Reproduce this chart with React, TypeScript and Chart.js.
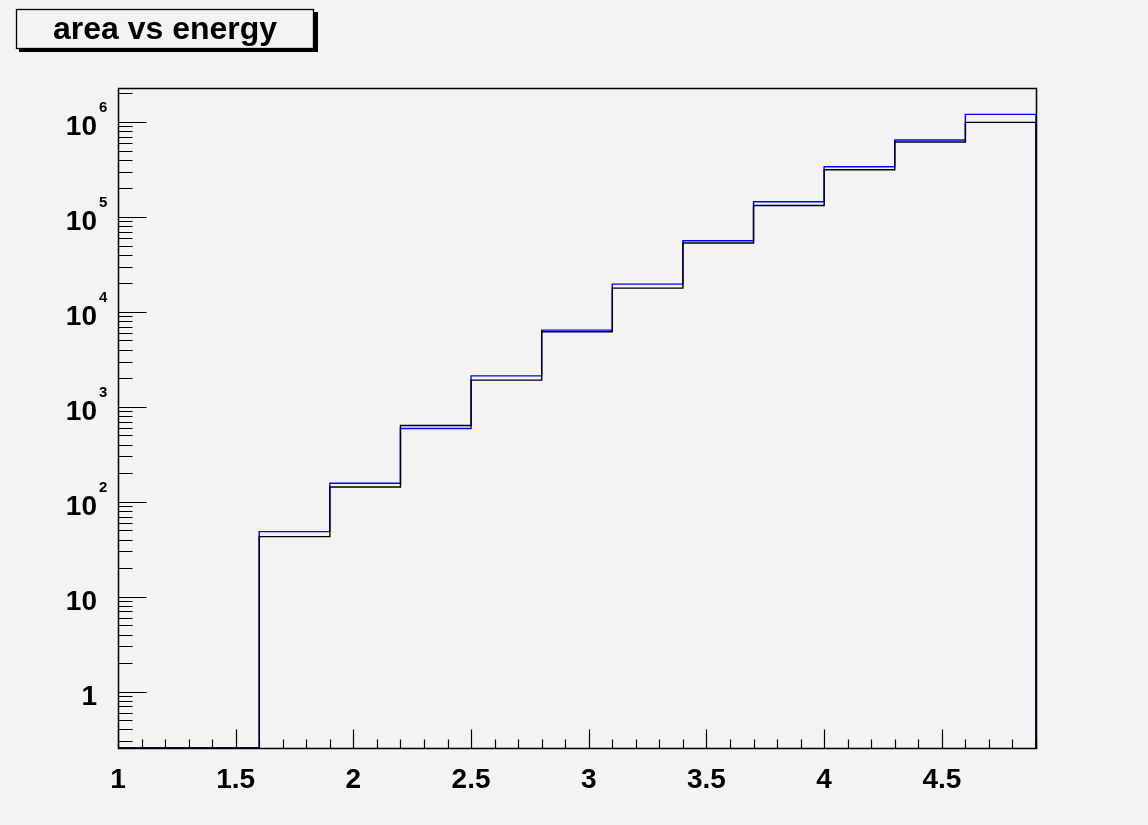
import React, { useEffect, useRef } from "react";
import { Chart, registerables } from "chart.js";

Chart.register(...registerables);

// ---- data ----
const binLowEdges = [1.0, 1.3, 1.6, 1.9, 2.2, 2.5, 2.8, 3.1, 3.4, 3.7, 4.0, 4.3, 4.6];
const binWidth = 0.3;
const blueValues = [0, 0, 48.5, 157, 591, 2120, 6430, 19600, 56100, 144500, 338000, 646000, 1202000];
const blackValues = [0, 0, 43, 143, 635, 1910, 6170, 17800, 53100, 132000, 314000, 615000, 990000];

const xMin = 1.0;
const xMax = 4.9;
const yMin = 0.2553;
const yMax = 2.28e6;

const xTickValues = [1, 1.5, 2, 2.5, 3, 3.5, 4, 4.5];
const xTickLabels = ["1", "1.5", "2", "2.5", "3", "3.5", "4", "4.5"];
const yTickValues = [1, 10, 100, 1000, 10000, 100000, 1000000];
const yTickBases = ["1", "10", "10", "10", "10", "10", "10"];
const yTickExps = ["", "", "2", "3", "4", "5", "6"];

const titleText = "area vs energy";

const BG = "#f3f3f3";
const FONT = '"Liberation Sans", Arial, Helvetica, sans-serif';

function histPoints(values: number[]) {
  const pts = values.map((v, i) => ({ x: binLowEdges[i], y: v > 0 ? v : yMin }));
  const lastEdge = binLowEdges[binLowEdges.length - 1] + binWidth;
  pts.push({ x: lastEdge, y: values[values.length - 1] > 0 ? values[values.length - 1] : yMin });
  pts.push({ x: lastEdge, y: yMin });
  return pts;
}

const rootPlugin = {
  id: "rootStyle",
  beforeDraw(chart: any) {
    const { ctx, width, height } = chart;
    ctx.save();
    ctx.fillStyle = BG;
    ctx.fillRect(0, 0, width, height);
    ctx.restore();
  },
  afterDraw(chart: any) {
    const { ctx, chartArea } = chart;
    const { left, top, right, bottom } = chartArea;
    const xs = chart.scales.x;
    const ys = chart.scales.y;
    ctx.save();
    ctx.strokeStyle = "#000";

    // x ticks
    ctx.lineWidth = 1.2;
    const xMajorLen = 19;
    const xMinorLen = 9;
    ctx.beginPath();
    for (let i = 10; i <= 49; i++) {
      const v = i / 10;
      const px = Math.round(xs.getPixelForValue(v)) + 0.5;
      const len = i % 5 === 0 ? xMajorLen : xMinorLen;
      ctx.moveTo(px, bottom + 0.5);
      ctx.lineTo(px, bottom + 0.5 - len);
    }
    ctx.stroke();

    // y ticks
    const yMajorLen = 28;
    const yMinorLen = 14;
    ctx.beginPath();
    for (let e = -1; e <= 6; e++) {
      for (let k = 1; k <= 9; k++) {
        const v = k * Math.pow(10, e);
        if (v < yMin || v > yMax) continue;
        const py = Math.round(ys.getPixelForValue(v)) + 0.5;
        const len = k === 1 ? yMajorLen : yMinorLen;
        ctx.moveTo(left + 0.5, py);
        ctx.lineTo(left + 0.5 + len, py);
      }
    }
    ctx.stroke();

    // frame
    ctx.lineWidth = 1.5;
    ctx.strokeRect(left + 0.5, top + 0.5, right - left, bottom - top);

    // x labels
    ctx.fillStyle = "#000";
    ctx.font = `bold 28px ${FONT}`;
    ctx.textAlign = "center";
    ctx.textBaseline = "alphabetic";
    xTickValues.forEach((v, i) => {
      ctx.fillText(xTickLabels[i], xs.getPixelForValue(v), bottom + 40);
    });

    // y labels
    yTickValues.forEach((v, i) => {
      const py = ys.getPixelForValue(v);
      ctx.font = `bold 28px ${FONT}`;
      ctx.textAlign = "right";
      ctx.fillText(yTickBases[i], left - 21, py + 13);
      if (yTickExps[i]) {
        ctx.font = `bold 15px ${FONT}`;
        ctx.textAlign = "left";
        ctx.fillText(yTickExps[i], left - 19, py - 10);
      }
    });

    // title box
    ctx.lineWidth = 1.3;
    ctx.fillStyle = "#000";
    ctx.fillRect(19, 12, 299, 40);
    ctx.fillStyle = BG;
    ctx.fillRect(16, 9, 298, 40);
    ctx.strokeStyle = "#000";
    ctx.strokeRect(16.5, 9.5, 297, 39);
    ctx.fillStyle = "#000";
    ctx.font = `bold 32px ${FONT}`;
    ctx.textAlign = "center";
    ctx.textBaseline = "alphabetic";
    ctx.fillText(titleText, 165, 39);
    ctx.restore();
  },
};

export default function App() {
  const ref = useRef<HTMLCanvasElement | null>(null);
  useEffect(() => {
    document.body.style.margin = "0";
    document.body.style.background = BG;
    const canvas = ref.current;
    if (!canvas) return;
    const chart = new Chart(canvas, {
      type: "line",
      data: {
        datasets: [
          {
            label: "black",
            data: histPoints(blackValues),
            borderColor: "#000000",
            borderWidth: 1.4,
            stepped: "before",
            pointRadius: 0,
            fill: false,
            tension: 0,
          },
          {
            label: "blue",
            data: histPoints(blueValues),
            borderColor: "#0000ff",
            borderWidth: 1.4,
            stepped: "before",
            pointRadius: 0,
            fill: false,
            tension: 0,
          },
        ],
      },
      options: {
        animation: false,
        responsive: false,
        devicePixelRatio: 1,
        layout: { padding: { left: 118, top: 88, right: 112, bottom: 77 } },
        plugins: { legend: { display: false }, title: { display: false }, tooltip: { enabled: false } },
        events: [],
        scales: {
          x: { type: "linear", min: xMin, max: xMax, display: false },
          y: { type: "logarithmic", min: yMin, max: yMax, display: false },
        },
      },
      plugins: [rootPlugin],
    });
    return () => chart.destroy();
  }, []);
  return <canvas ref={ref} width={1148} height={825} style={{ display: "block" }} />;
}
